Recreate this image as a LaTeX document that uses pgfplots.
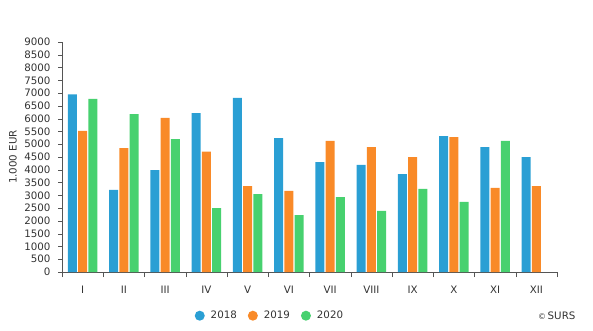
\documentclass[border=0pt]{standalone}
\usepackage{pgfplots}
\pgfplotsset{compat=1.18}
\usepackage{fontspec}
\setmainfont{DejaVu Sans}
\definecolor{cA}{RGB}{42,159,212}
\definecolor{cB}{RGB}{249,138,40}
\definecolor{cC}{RGB}{71,209,111}
\definecolor{axc}{RGB}{85,85,85}
\definecolor{txt}{RGB}{51,51,51}
\newcommand{\fs}{\fontsize{10.3}{12}\selectfont}
\begin{document}
\fs
\begin{tikzpicture}[x=1bp,y=1bp]
\path (0,0) rectangle (593,330);
\begin{axis}[
  at={(62bp,58bp)}, anchor=south west,
  scale only axis, width=495bp, height=230bp,
  xmin=0.5, xmax=12.5, ymin=0, ymax=9000,
  ytick={0,500,...,9000},
  yticklabels={0,500,1000,1500,2000,2500,3000,3500,4000,4500,5000,5500,6000,6500,7000,7500,8000,8500,9000},
  xtick={1,...,12},
  xticklabels={I,II,III,IV,V,VI,VII,VIII,IX,X,XI,XII},
  minor xtick={0.5,1.5,...,12.5},
  major x tick style={draw=none},
  minor x tick style={draw=axc},
  y tick style={draw=axc},
  tick align=outside,
  minor tick length=5bp,
  major tick length=4bp,
  axis x line*=bottom, axis y line*=left,
  axis line style={-, draw=axc, line width=0.8bp},
  ticklabel style={font=\fs, text=txt},
  yticklabel style={xshift=-4bp},
  xticklabel style={yshift=-6bp},
  ylabel={1.000 EUR},
  ylabel style={at={(axis description cs:-0.099,0.5)}, anchor=center, font=\fs, text=txt},
  ybar=1.2bp, bar width=9bp,
  legend style={draw=none, at={(axis description cs:0.42,-0.19)}, anchor=center,
    legend columns=3, font=\fs, text=txt,
    /tikz/every odd column/.append style={column sep=4bp},
    /tikz/every even column/.append style={column sep=9bp}},
  legend image code/.code={\fill (0bp,0bp) circle (5bp);},
]
\addplot[draw=none, fill=cA] coordinates {(1,6950) (2,3210) (3,3990) (4,6220) (5,6810) (6,5240) (7,4300) (8,4190) (9,3835) (10,5320) (11,4890) (12,4500)};
\addplot[draw=none, fill=cB] coordinates {(1,5520) (2,4850) (3,6030) (4,4710) (5,3365) (6,3170) (7,5130) (8,4890) (9,4500) (10,5280) (11,3290) (12,3365)};
\addplot[draw=none, fill=cC] coordinates {(1,6770) (2,6180) (3,5200) (4,2500) (5,3050) (6,2230) (7,2935) (8,2390) (9,3250) (10,2740) (11,5130)};
\legend{2018,2019,2020}
\end{axis}
\node[anchor=east, text=txt] at (579bp,14bp) {\fs{\fontsize{8}{9}\selectfont\textcopyright}\,SURS};
\end{tikzpicture}
\end{document}
